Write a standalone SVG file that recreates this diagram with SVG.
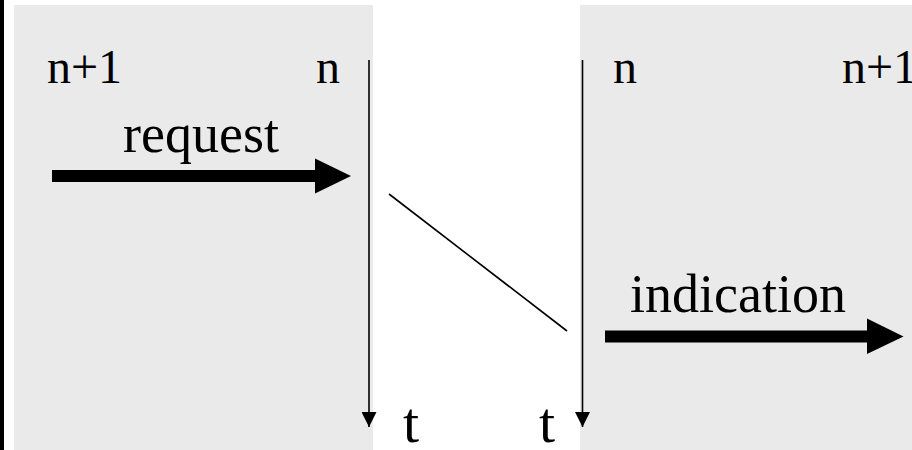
<svg xmlns="http://www.w3.org/2000/svg" width="912" height="450" viewBox="0 0 912 450">
  <style>
    .panel { fill: #eaeaea; }
    .small { font-size: 48px; }
    .big { font-size: 54px; }
    .t { font-size: 58px; }
    .thin { stroke: #000; stroke-width: 1.6; fill: none; }
  </style>
  <defs>
    <marker id="tip" viewBox="0 0 10 10" refX="10" refY="5" markerWidth="15" markerHeight="15" markerUnits="userSpaceOnUse" orient="auto">
      <path d="M0,0 L10,5 L0,10 Z" fill="#000"/>
    </marker>
  </defs>
  <rect x="0" y="0" width="912" height="450" fill="#fff"/>
  <rect x="0" y="0" width="4" height="450" fill="#000"/>
  <g font-family="'Liberation Serif', 'Times New Roman', Times, serif" fill="#000">
    <g id="layer-left">
      <rect class="panel" x="14" y="5" width="359" height="445"/>
      <text class="small" x="47" y="83" fill="#000">n+1</text>
      <text class="small" x="316" y="83" fill="#000">n</text>
      <text class="big" x="123" y="152" fill="#000">request</text>
    </g>
    <g id="layer-right">
      <rect class="panel" x="580" y="5" width="332" height="445"/>
      <text class="small" x="613" y="83" fill="#000">n</text>
      <text class="small" x="842" y="83" fill="#000">n+1</text>
      <text class="big" x="630" y="312" fill="#000">indication</text>
    </g>
    <g id="time-labels">
      <text class="t" x="403" y="442" fill="#000">t</text>
      <text class="t" x="539" y="442" fill="#000">t</text>
    </g>
  </g>
  <g id="connectors">
    <line class="thin" x1="369" y1="60" x2="369" y2="427" marker-end="url(#tip)"/>
    <line class="thin" x1="582.5" y1="60" x2="582.5" y2="427" marker-end="url(#tip)"/>
    <line class="thin" x1="389" y1="194" x2="567" y2="331"/>
    <path d="M52,170 L315,170 L315,158.5 L351,176 L315,193.5 L315,182 L52,182 Z" fill="#000"/>
    <path d="M605,330.5 L867,330.5 L867,318.5 L903.5,336.5 L867,354 L867,342.5 L605,342.5 Z" fill="#000"/>
  </g>
</svg>
